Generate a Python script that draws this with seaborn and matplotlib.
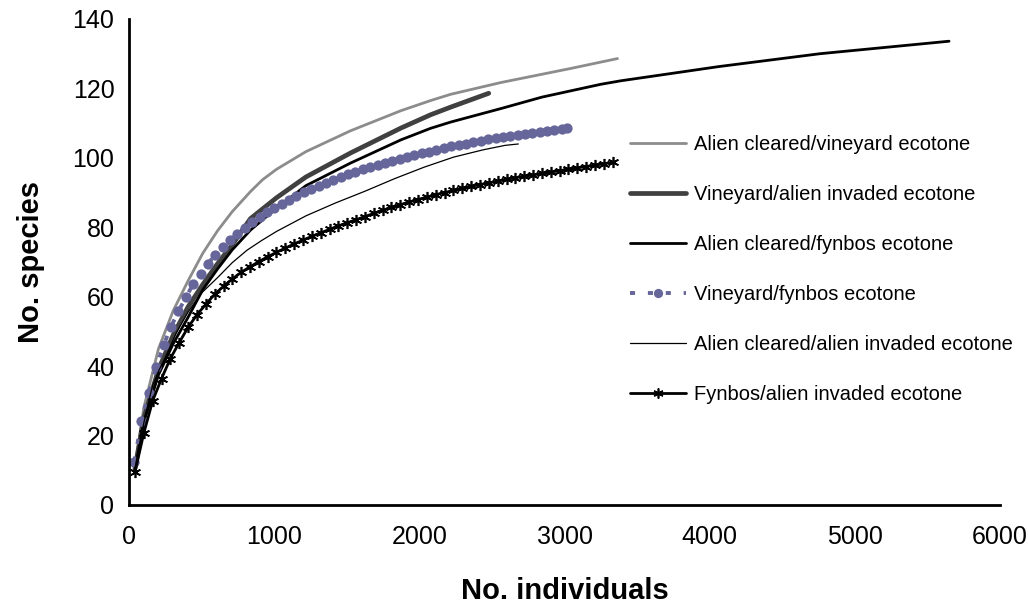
import matplotlib
matplotlib.use("Agg")
import matplotlib.pyplot as plt
import seaborn as sns
import pandas as pd

# ---------------- data ----------------
labels = [
    "Alien cleared/vineyard ecotone",
    "Vineyard/alien invaded ecotone",
    "Alien cleared/fynbos ecotone",
    "Vineyard/fynbos ecotone",
    "Alien cleared/alien invaded ecotone",
    "Fynbos/alien invaded ecotone",
]

x_cv = [41, 102, 203, 305, 406, 508, 610, 711, 837, 920, 1016, 1219, 1526, 1874,
        2077, 2215, 2562, 3048, 3365]
y_cv = [11, 28, 45, 56, 64.5, 72.5, 79, 84.5, 90.3, 93.7, 96.7, 101.8, 107.8, 113.6,
        116.5, 118.3, 121.7, 125.8, 128.6]

x_va = [41, 102, 203, 305, 406, 508, 610, 711, 837, 1016, 1219, 1526, 1874, 2077,
        2215, 2478]
y_va = [10.5, 25, 39, 49, 57, 63.5, 69.5, 75, 82.5, 88.5, 94.5, 101.4, 108.6, 112.4,
        114.6, 118.6]

x_cf = [41, 102, 203, 305, 406, 508, 610, 711, 837, 1016, 1219, 1526, 1874, 2077,
        2215, 2562, 2845, 3251, 3388, 4064, 4760, 5649]
y_cf = [10, 24, 37.5, 46.5, 54, 62, 68, 73.5, 79.2, 85.5, 92, 98.5, 105.2, 108.5,
        110.3, 114.2, 117.5, 121.2, 122.2, 126.3, 130, 133.6]

x_vf = [36, 86, 137, 188, 239, 290, 340, 391, 442, 493, 544, 594, 645, 696, 747,
        798, 848, 899, 950, 1001, 1052, 1102, 1153, 1204, 1255, 1306, 1356, 1407,
        1458, 1509, 1560, 1610, 1661, 1712, 1763, 1814, 1864, 1915, 1966, 2017,
        2068, 2118, 2169, 2220, 2271, 2322, 2372, 2423, 2474, 2525, 2576, 2626,
        2677, 2728, 2779, 2830, 2880, 2931, 2982, 3020]
y_vf = [12.5, 24.2, 32.3, 39.8, 46.1, 51.4, 55.8, 59.8, 63.6, 66.6, 69.5, 72.1, 74.3,
        76.3, 78.1, 79.8, 81.4, 82.9, 84.3, 85.6, 86.8, 88.0, 89.1, 90.1, 91.1, 92.0,
        92.9, 93.7, 94.5, 95.3, 96.0, 96.7, 97.4, 98.0, 98.6, 99.2, 99.8, 100.3,
        100.8, 101.3, 101.8, 102.3, 102.8, 103.3, 103.7, 104.1, 104.5, 104.9, 105.3,
        105.7, 106.0, 106.3, 106.6, 106.9, 107.2, 107.5, 107.8, 108.1, 108.4, 108.6]

x_ca = [41, 81, 122, 163, 203, 264, 325, 406, 493, 610, 711, 813, 914, 1016, 1219,
        1422, 1626, 1829, 2032, 2235, 2438, 2591, 2682]
y_ca = [10.5, 19.5, 27.5, 34.5, 38.5, 43.8, 49.5, 55.5, 60.8, 65.5, 69.8, 73.4, 76.2,
        78.8, 83.3, 87.0, 90.4, 94.0, 97.3, 100.2, 102.3, 103.6, 104.0]

x_fa = [41, 102, 163, 224, 285, 346, 407, 468, 529, 590, 651, 711, 772, 833, 894,
        955, 1016, 1077, 1138, 1199, 1260, 1321, 1382, 1443, 1504, 1565, 1626, 1687,
        1748, 1808, 1869, 1930, 1991, 2052, 2113, 2174, 2235, 2296, 2357, 2418, 2479,
        2540, 2601, 2662, 2723, 2784, 2845, 2906, 2966, 3027, 3088, 3149, 3210, 3271,
        3332]
y_fa = [9.5, 20.7, 30.0, 36.4, 42.2, 46.8, 51.2, 54.8, 57.8, 60.7, 63.0, 65.1, 67.0,
        68.6, 70.1, 71.5, 72.8, 74.0, 75.2, 76.3, 77.4, 78.4, 79.4, 80.4, 81.3, 82.2,
        83.1, 84.0, 84.9, 85.7, 86.5, 87.3, 88.0, 88.7, 89.4, 90.0, 90.6, 91.2, 91.8,
        92.3, 92.8, 93.3, 93.8, 94.3, 94.7, 95.1, 95.5, 95.9, 96.3, 96.7, 97.1, 97.5,
        97.9, 98.3, 98.7]

x_ticks = [0, 1000, 2000, 3000, 4000, 5000, 6000]
y_ticks = [0, 20, 40, 60, 80, 100, 120, 140]

# ---------------- styling ----------------
sns.set_theme(style="white")
plt.rcParams["font.family"] = ["Liberation Sans", "DejaVu Sans"]
for k in ["text.color", "axes.labelcolor", "xtick.color", "ytick.color"]:
    plt.rcParams[k] = "black"

fig = plt.figure(figsize=(10.28, 6.10), dpi=100)
# axes: x from px 129 to 1000, y from px 505 (0) up to px 19 (140)
ax = fig.add_axes([129 / 1028, 1 - 505 / 610, (1000 - 129) / 1028, (505 - 19) / 610])

series = [
    (x_cv, y_cv, dict(color="#8c8c8c", linewidth=2.0)),
    (x_va, y_va, dict(color="#404040", linewidth=3.4)),
    (x_cf, y_cf, dict(color="black", linewidth=2.0)),
    (x_vf, y_vf, dict(color="#66669a", linewidth=2.8, linestyle=(0, (1.3, 3.3)),
                      marker="o", markersize=7.4, markeredgewidth=0,
                      markerfacecolor="#66669a")),
    (x_ca, y_ca, dict(color="black", linewidth=0.9)),
    (x_fa, y_fa, dict(color="black", linewidth=2.0, marker=(6, 2, 0),
                      markersize=8, markeredgewidth=1.2, markeredgecolor="black")),
]

for (xs, ys, kw), lab in zip(series, labels):
    df = pd.DataFrame({"x": xs, "y": ys})
    sns.lineplot(data=df, x="x", y="y", ax=ax, label=lab, sort=False,
                 estimator=None, **kw)

ax.set_xlim(0, 6000)
ax.set_ylim(0, 140)
ax.set_xticks(x_ticks)
ax.set_yticks(y_ticks)
ax.tick_params(axis="both", which="major", labelsize=18, direction="out",
               length=4.5, width=1.5, color="black")
ax.tick_params(axis="x", pad=10)
ax.tick_params(axis="y", pad=6)
for s in ["top", "right"]:
    ax.spines[s].set_visible(False)
for s in ["left", "bottom"]:
    ax.spines[s].set_color("black")
    ax.spines[s].set_linewidth(2)

ax.set_xlabel("No. individuals", fontsize=21, fontweight="bold", labelpad=20)
ax.set_ylabel("No. species", fontsize=21, fontweight="bold", labelpad=20)

leg = ax.legend(loc="upper left", bbox_to_anchor=(630 / 1028, 1 - 135 / 610),
                bbox_transform=fig.transFigure, frameon=False, fontsize=14.5,
                handlelength=2.8, handletextpad=0.4, labelspacing=1.54,
                borderpad=0, borderaxespad=0, markerscale=0.9)

fig.savefig("out.png", dpi=100)
